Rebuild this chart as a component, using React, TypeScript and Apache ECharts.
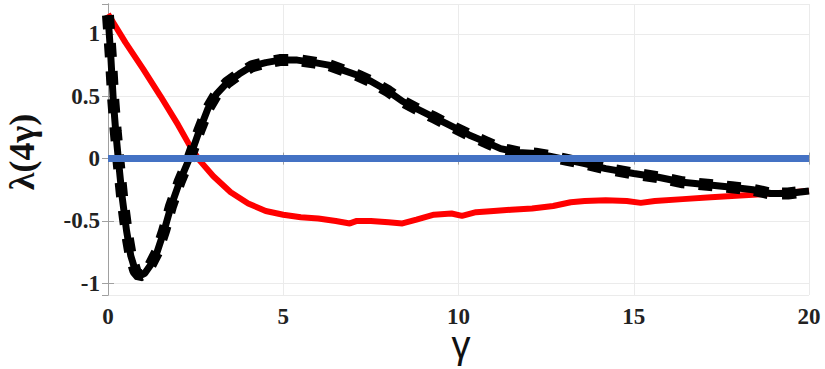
import React, { useEffect, useRef } from "react";
import * as echarts from "echarts";

const blackData: [number, number][] = [
  [0, 1.15], [0.08, 0.82], [0.15, 0.47], [0.22, 0.22], [0.3, -0.02], [0.4, -0.3],
  [0.53, -0.58], [0.65, -0.78], [0.78, -0.9], [0.9, -0.94], [1.05, -0.92], [1.2, -0.86],
  [1.4, -0.75], [1.6, -0.58], [1.8, -0.38], [2.05, -0.18], [2.35, 0.02], [2.6, 0.22],
  [2.85, 0.4], [3.1, 0.52], [3.4, 0.61], [3.75, 0.68], [4.1, 0.74], [4.5, 0.77],
  [4.9, 0.79], [5.4, 0.79], [5.9, 0.77], [6.3, 0.75], [6.7, 0.71], [7.1, 0.67],
  [7.5, 0.62], [8.0, 0.54], [8.4, 0.46], [8.8, 0.4], [9.3, 0.33], [9.8, 0.26],
  [10.3, 0.19], [10.8, 0.13], [11.2, 0.08], [11.7, 0.05], [12.2, 0.04], [12.6, 0.02],
  [13.1, -0.01], [13.6, -0.04], [14.2, -0.08], [15.0, -0.12], [15.7, -0.15], [16.4, -0.19],
  [17.1, -0.21], [17.8, -0.23], [18.4, -0.25], [18.9, -0.28], [19.4, -0.28], [20, -0.26],
];

const redData: [number, number][] = [
  [0, 1.16], [0.5, 0.93], [1.0, 0.72], [1.5, 0.5], [2.0, 0.27], [2.3, 0.12], [2.6, -0.01],
  [3.0, -0.14], [3.5, -0.27], [4.0, -0.36], [4.5, -0.42], [5.0, -0.45], [5.5, -0.47],
  [6.0, -0.48], [6.5, -0.5], [6.9, -0.52], [7.1, -0.5], [7.5, -0.5], [8.0, -0.51],
  [8.4, -0.52], [8.8, -0.49], [9.3, -0.45], [9.8, -0.44], [10.1, -0.46], [10.5, -0.43],
  [11.0, -0.42], [11.5, -0.41], [12.1, -0.4], [12.7, -0.38], [13.2, -0.35], [13.6, -0.34],
  [14.2, -0.335], [14.8, -0.34], [15.2, -0.355], [15.6, -0.34], [16.4, -0.325], [17.2, -0.31],
  [17.8, -0.3], [18.4, -0.29], [18.9, -0.28], [19.5, -0.27], [20, -0.26],
];

const blueData: [number, number][] = [[0, 0], [20, 0]];

const xTicks = { min: 0, max: 20, interval: 5 };
const yRange = { min: -1.094, max: 1.24 };
const xName = "γ";
const yName = "λ(4γ)";

export default function App() {
  const ref = useRef<HTMLDivElement>(null);
  useEffect(() => {
    if (!ref.current) return;
    const chart = echarts.init(ref.current, undefined, { renderer: "svg" });
    const axisLine = { show: true, lineStyle: { color: "#a0a0a0", width: 1 } };
    const tick = { show: true, inside: true, length: 6, lineStyle: { color: "#a0a0a0" } };
    const labelStyle = { fontFamily: "serif", fontWeight: "bold", fontSize: 23, color: "#222" };
    chart.setOption({
      animation: false,
      grid: { left: 108, right: 16, top: 4, bottom: 74, containLabel: false },
      xAxis: [
        {
          type: "value",
          min: xTicks.min,
          max: xTicks.max,
          interval: xTicks.interval,
          axisLine,
          axisTick: tick,
          axisLabel: { ...labelStyle, margin: 10 },
          splitLine: { show: true, lineStyle: { color: "#ebebeb", width: 1 } },
        },
        {
          type: "value",
          position: "top",
          min: xTicks.min,
          max: xTicks.max,
          interval: xTicks.interval,
          axisLine,
          axisTick: tick,
          axisLabel: { show: false },
          splitLine: { show: false },
        },
      ],
      yAxis: [
        {
          type: "value",
          min: yRange.min,
          max: yRange.max,
          axisLine,
          axisTick: tick,
          axisLabel: { ...labelStyle, margin: 8, showMinLabel: false, showMaxLabel: false },
          splitLine: { show: true, lineStyle: { color: "#ebebeb", width: 1 } },
        },
        {
          type: "value",
          position: "right",
          min: yRange.min,
          max: yRange.max,
          axisLine,
          axisTick: tick,
          axisLabel: { show: false },
          splitLine: { show: false },
        },
      ],
      graphic: [
        {
          type: "text",
          x: 22,
          y: 152,
          rotation: Math.PI / 2,
          style: {
            text: yName,
            fontFamily: "serif",
            fontWeight: "bold",
            fontSize: 36,
            fill: "#111",
            align: "center",
            verticalAlign: "middle",
          },
        },
        {
          type: "text",
          x: 461,
          y: 345,
          style: {
            text: xName,
            fontFamily: "sans-serif",
            fontWeight: "normal",
            fontSize: 38,
            fill: "#111",
            align: "center",
            verticalAlign: "middle",
          },
        },
      ],
      series: [
        {
          type: "line",
          data: redData,
          showSymbol: false,
          lineStyle: { color: "#ff0000", width: 6 },
          z: 2,
        },
        {
          type: "line",
          data: blackData,
          showSymbol: false,
          lineStyle: { color: "#000", width: 7 },
          z: 3,
        },
        {
          type: "line",
          data: blackData,
          showSymbol: false,
          lineStyle: { color: "#000", width: 12, type: [14, 14] },
          z: 4,
        },
        {
          type: "line",
          data: blueData,
          showSymbol: false,
          lineStyle: { color: "#4472c4", width: 7 },
          z: 5,
        },
      ],
    });
    return () => chart.dispose();
  }, []);
  return <div ref={ref} style={{ width: 825, height: 369, position: "absolute", left: 0, top: 0 }} />;
}
